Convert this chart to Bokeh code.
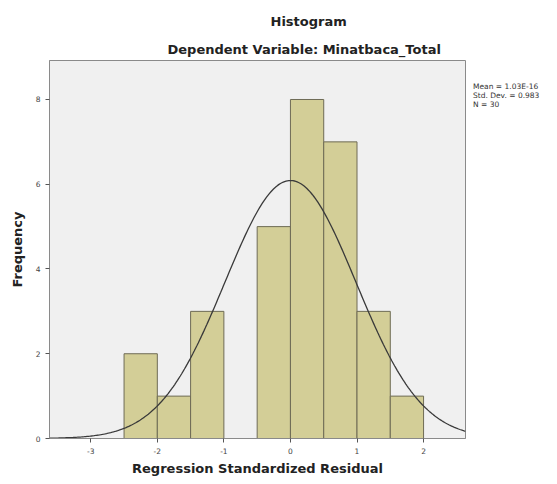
import numpy as np
from bokeh.plotting import figure
from bokeh.models import Range1d, FixedTicker, Title, Legend, LegendItem
from bokeh.embed import file_html
from bokeh.resources import INLINE

# Data
bin_left = [-2.5, -2.0, -1.5, -1.0, -0.5, 0.0, 0.5, 1.0, 1.5]
bin_right = [-2.0, -1.5, -1.0, -0.5, 0.0, 0.5, 1.0, 1.5, 2.0]
counts = [2, 1, 3, 0, 5, 8, 7, 3, 1]
stat_mean = 1.03e-16
stat_sd = 0.983
stat_n = 30
stat_lines = ["Mean = 1.03E-16", "Std. Dev. = 0.983", "N = 30"]
x_ticks = [-3, -2, -1, 0, 1, 2]
y_ticks = [0, 2, 4, 6, 8]

BFONT = "DejaVu Sans"
FONT = "DejaVu Sans"

p = figure(frame_width=416, frame_height=378, output_backend="svg",
           toolbar_location=None,
           x_range=Range1d(-3.62, 2.63), y_range=Range1d(0, 8.92),
           min_border_left=49, min_border_right=84, min_border_top=60,
           min_border_bottom=38)
p.background_fill_color = "#F0F0F0"
p.border_fill_color = "white"
p.outline_line_color = "#8a8a8a"
p.grid.visible = False

bw = [r - l for l, r in zip(bin_left, bin_right)]
p.quad(left=bin_left, right=bin_right, bottom=0, top=counts,
       fill_color="#D3CE97", line_color="#6e6b55", line_width=1)

# Normal curve fitted with mean, sd, N
xs = np.linspace(-3.62, 2.63, 300)
scale = stat_n * bw[0]
ys = scale * np.exp(-0.5 * ((xs - stat_mean) / stat_sd) ** 2) / (stat_sd * np.sqrt(2 * np.pi))
curve = p.line(xs, ys, line_color="#3a3a3a", line_width=1.3)

for ax in (p.xaxis[0], p.yaxis[0]):
    ax.axis_line_color = "#8a8a8a"
    ax.major_tick_line_color = "#555555"
    ax.minor_tick_line_color = None
    ax.major_tick_out = 4
    ax.major_tick_in = 0
    ax.major_label_text_font = FONT
    ax.major_label_text_font_size = "7.5px"
    ax.major_label_text_color = "#444444"
    ax.axis_label_text_font = BFONT
    ax.axis_label_text_font_size = "13px"
    ax.axis_label_text_font_style = "bold"
    ax.axis_label_text_color = "#222222"

p.xaxis.ticker = FixedTicker(ticks=x_ticks)
p.yaxis.ticker = FixedTicker(ticks=y_ticks)
p.xaxis.major_label_overrides = {t: str(t) for t in x_ticks}
p.xaxis.axis_label = "Regression Standardized Residual"
p.yaxis.axis_label = "Frequency"
p.xaxis.axis_label_standoff = 4
p.yaxis.axis_label_standoff = 8
p.yaxis.major_label_orientation = 0

p.add_layout(Title(text="Dependent Variable: Minatbaca_Total", align="left",
                   offset=118, standoff=8, text_font=BFONT, text_font_size="13px",
                   text_font_style="bold", text_color="#222222"), "above")
p.add_layout(Title(text="Histogram", align="left", offset=221, standoff=13,
                   text_font=BFONT, text_font_size="13px",
                   text_font_style="bold", text_color="#222222"), "above")

items = [LegendItem(label=t, renderers=[curve]) for t in stat_lines]
legend = Legend(items=items, location="top_left", margin=8, padding=0, spacing=0,
                glyph_width=0, glyph_height=9, label_height=9, label_standoff=0,
                label_text_font=FONT, label_text_font_size="7.5px",
                label_text_color="#333333",
                border_line_color=None, background_fill_alpha=0,
                title=" ", title_text_font_size="7px", title_standoff=7)
p.add_layout(legend, "right")

open("out.html", "w").write(file_html(p, INLINE))
